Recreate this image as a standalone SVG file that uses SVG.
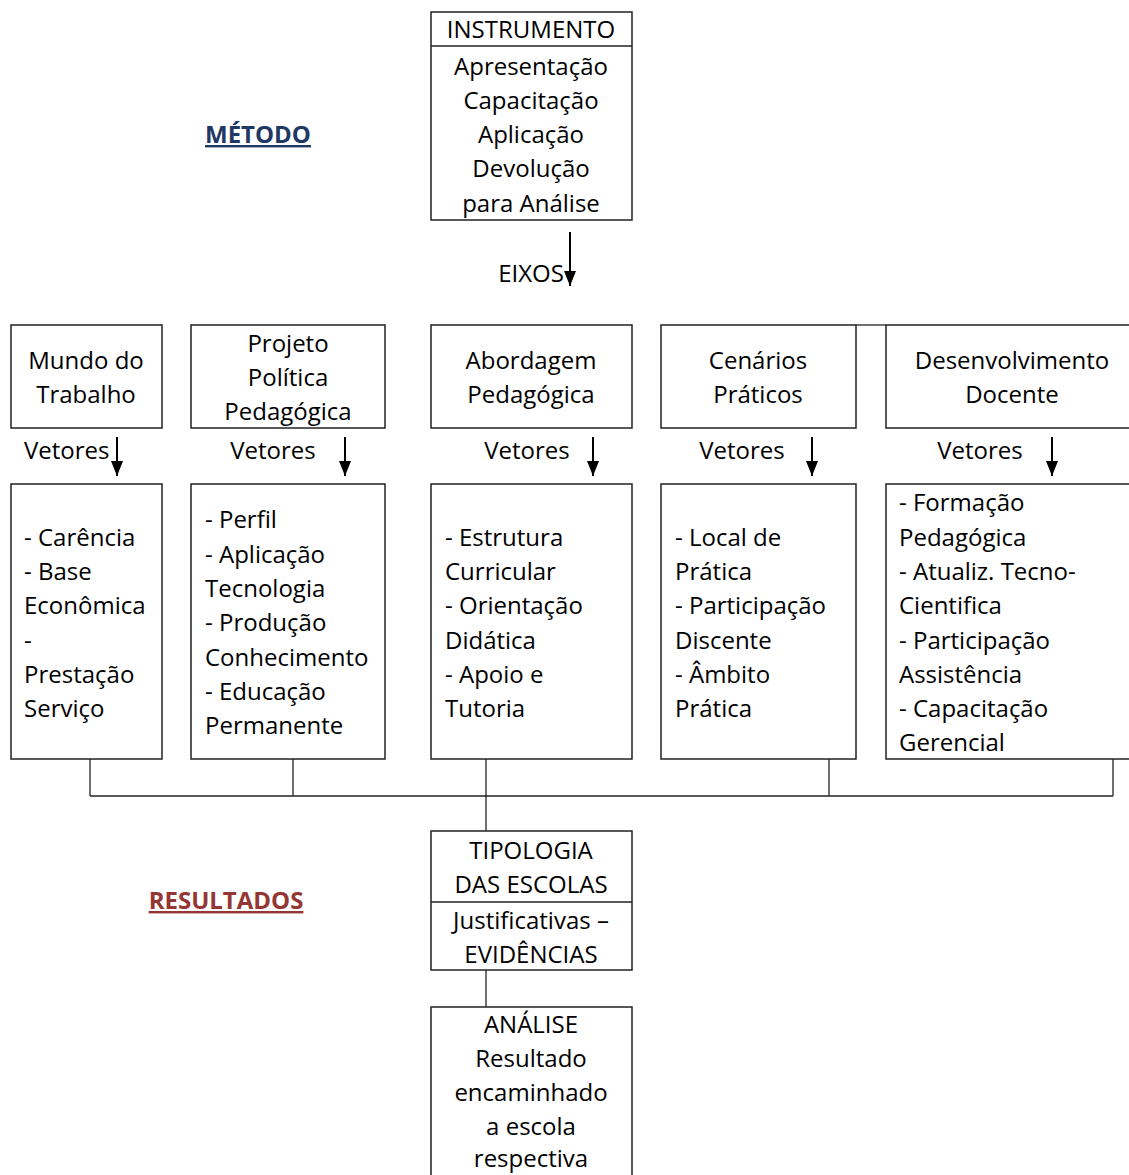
<svg xmlns="http://www.w3.org/2000/svg" width="1129" height="1175" viewBox="0 0 1129 1175">
<defs>
<marker id="ah" markerWidth="15" markerHeight="12" refX="15" refY="6" orient="auto" markerUnits="userSpaceOnUse" viewBox="0 0 15 12">
<path d="M0,0 L15,6 L0,12 Z" fill="#000"/>
</marker>
</defs>
<style>
.b{fill:#fff;stroke:#222;stroke-width:1.5}
.t{font-family:"Open Sans","Noto Sans","Liberation Sans",sans-serif;font-size:24px;fill:#000}
.c{text-anchor:middle}
.ln{stroke:#222;stroke-width:1.3;fill:none}
.ar{stroke:#000;stroke-width:2;fill:none}
</style>
<rect width="1129" height="1175" fill="#fff"/>

<text class="t c" x="258" y="143" style="font-weight:bold;fill:#1f3864;text-decoration:underline">MÉTODO</text>
<text class="t c" x="226" y="909" style="font-weight:bold;fill:#943634;text-decoration:underline">RESULTADOS</text>

<g id="instrumento">
<rect class="b" x="431" y="12" width="201" height="208"/>
<line class="ln" x1="431" y1="46" x2="632" y2="46"/>
<text class="t c" x="531" y="38">INSTRUMENTO</text>
<text class="t c" x="531" y="75">Apresentação</text>
<text class="t c" x="531" y="109">Capacitação</text>
<text class="t c" x="531" y="143">Aplicação</text>
<text class="t c" x="531" y="177">Devolução</text>
<text class="t c" x="531" y="212">para Análise</text>
</g>

<text class="t c" x="531" y="282">EIXOS</text>

<g id="mundo">
<rect class="b" x="11" y="325" width="151" height="103"/>
<text class="t c" x="86" y="369">Mundo do</text>
<text class="t c" x="86" y="403">Trabalho</text>
</g>
<g id="projeto">
<rect class="b" x="191" y="325" width="194" height="103"/>
<text class="t c" x="288" y="352">Projeto</text>
<text class="t c" x="288" y="386">Política</text>
<text class="t c" x="288" y="420">Pedagógica</text>
</g>
<g id="abordagem">
<rect class="b" x="431" y="325" width="201" height="103"/>
<text class="t c" x="531" y="369">Abordagem</text>
<text class="t c" x="531" y="403">Pedagógica</text>
</g>
<g id="cenarios">
<rect class="b" x="661" y="325" width="195" height="103"/>
<text class="t c" x="758" y="369">Cenários</text>
<text class="t c" x="758" y="403">Práticos</text>
</g>
<g id="desenvolvimento">
<rect class="b" x="886" y="325" width="250" height="103"/>
<text class="t c" x="1012" y="369">Desenvolvimento</text>
<text class="t c" x="1012" y="403">Docente</text>
</g>

<g id="vetores-labels">
<text class="t" x="24" y="459">Vetores</text>
<text class="t c" x="273" y="459">Vetores</text>
<text class="t c" x="527" y="459">Vetores</text>
<text class="t c" x="742" y="459">Vetores</text>
<text class="t c" x="980" y="459">Vetores</text>
</g>

<g id="v-mundo">
<rect class="b" x="11" y="484" width="151" height="275"/>
<text class="t" x="24" y="546">- Carência</text>
<text class="t" x="24" y="580">- Base</text>
<text class="t" x="24" y="614">Econômica</text>
<text class="t" x="24" y="649">-</text>
<text class="t" x="24" y="683">Prestação</text>
<text class="t" x="24" y="717">Serviço</text>
</g>
<g id="v-projeto">
<rect class="b" x="191" y="484" width="194" height="275"/>
<text class="t" x="205" y="528">- Perfil</text>
<text class="t" x="205" y="563">- Aplicação</text>
<text class="t" x="205" y="597">Tecnologia</text>
<text class="t" x="205" y="631">- Produção</text>
<text class="t" x="205" y="666">Conhecimento</text>
<text class="t" x="205" y="700">- Educação</text>
<text class="t" x="205" y="734">Permanente</text>
</g>
<g id="v-abordagem">
<rect class="b" x="431" y="484" width="201" height="275"/>
<text class="t" x="445" y="546">- Estrutura</text>
<text class="t" x="445" y="580">Curricular</text>
<text class="t" x="445" y="614">- Orientação</text>
<text class="t" x="445" y="649">Didática</text>
<text class="t" x="445" y="683">- Apoio e</text>
<text class="t" x="445" y="717">Tutoria</text>
</g>
<g id="v-cenarios">
<rect class="b" x="661" y="484" width="195" height="275"/>
<text class="t" x="675" y="546">- Local de</text>
<text class="t" x="675" y="580">Prática</text>
<text class="t" x="675" y="614">- Participação</text>
<text class="t" x="675" y="649">Discente</text>
<text class="t" x="675" y="683">- Âmbito</text>
<text class="t" x="675" y="717">Prática</text>
</g>
<g id="v-desenvolvimento">
<rect class="b" x="886" y="484" width="250" height="275"/>
<text class="t" x="899" y="511">- Formação</text>
<text class="t" x="899" y="546">Pedagógica</text>
<text class="t" x="899" y="580">- Atualiz. Tecno-</text>
<text class="t" x="899" y="614">Cientifica</text>
<text class="t" x="899" y="649">- Participação</text>
<text class="t" x="899" y="683">Assistência</text>
<text class="t" x="899" y="717">- Capacitação</text>
<text class="t" x="899" y="751">Gerencial</text>
</g>

<g id="tipologia">
<rect class="b" x="431" y="831" width="201" height="139"/>
<line class="ln" x1="431" y1="902" x2="632" y2="902"/>
<text class="t c" x="531" y="859">TIPOLOGIA</text>
<text class="t c" x="531" y="893">DAS ESCOLAS</text>
<text class="t c" x="531" y="929">Justificativas –</text>
<text class="t c" x="531" y="963">EVIDÊNCIAS</text>
</g>

<g id="analise">
<rect class="b" x="431" y="1007" width="201" height="180"/>
<text class="t c" x="531" y="1033">ANÁLISE</text>
<text class="t c" x="531" y="1067">Resultado</text>
<text class="t c" x="531" y="1101">encaminhado</text>
<text class="t c" x="531" y="1135">a escola</text>
<text class="t c" x="531" y="1167">respectiva</text>
</g>

<g id="connectors">
<line class="ar" x1="570" y1="232" x2="570" y2="286" marker-end="url(#ah)"/>
<line class="ar" x1="117" y1="437" x2="117" y2="476" marker-end="url(#ah)"/>
<line class="ar" x1="345" y1="437" x2="345" y2="476" marker-end="url(#ah)"/>
<line class="ar" x1="593" y1="437" x2="593" y2="476" marker-end="url(#ah)"/>
<line class="ar" x1="812" y1="437" x2="812" y2="476" marker-end="url(#ah)"/>
<line class="ar" x1="1052" y1="437" x2="1052" y2="476" marker-end="url(#ah)"/>
<line class="ln" x1="856" y1="325" x2="886" y2="325"/>
<line class="ln" x1="90" y1="759" x2="90" y2="796"/>
<line class="ln" x1="293" y1="759" x2="293" y2="796"/>
<line class="ln" x1="486" y1="759" x2="486" y2="831"/>
<line class="ln" x1="829" y1="759" x2="829" y2="796"/>
<line class="ln" x1="1113" y1="759" x2="1113" y2="796"/>
<line class="ln" x1="90" y1="796" x2="1113" y2="796"/>
<line class="ln" x1="486" y1="970" x2="486" y2="1007"/>
</g>
</svg>
